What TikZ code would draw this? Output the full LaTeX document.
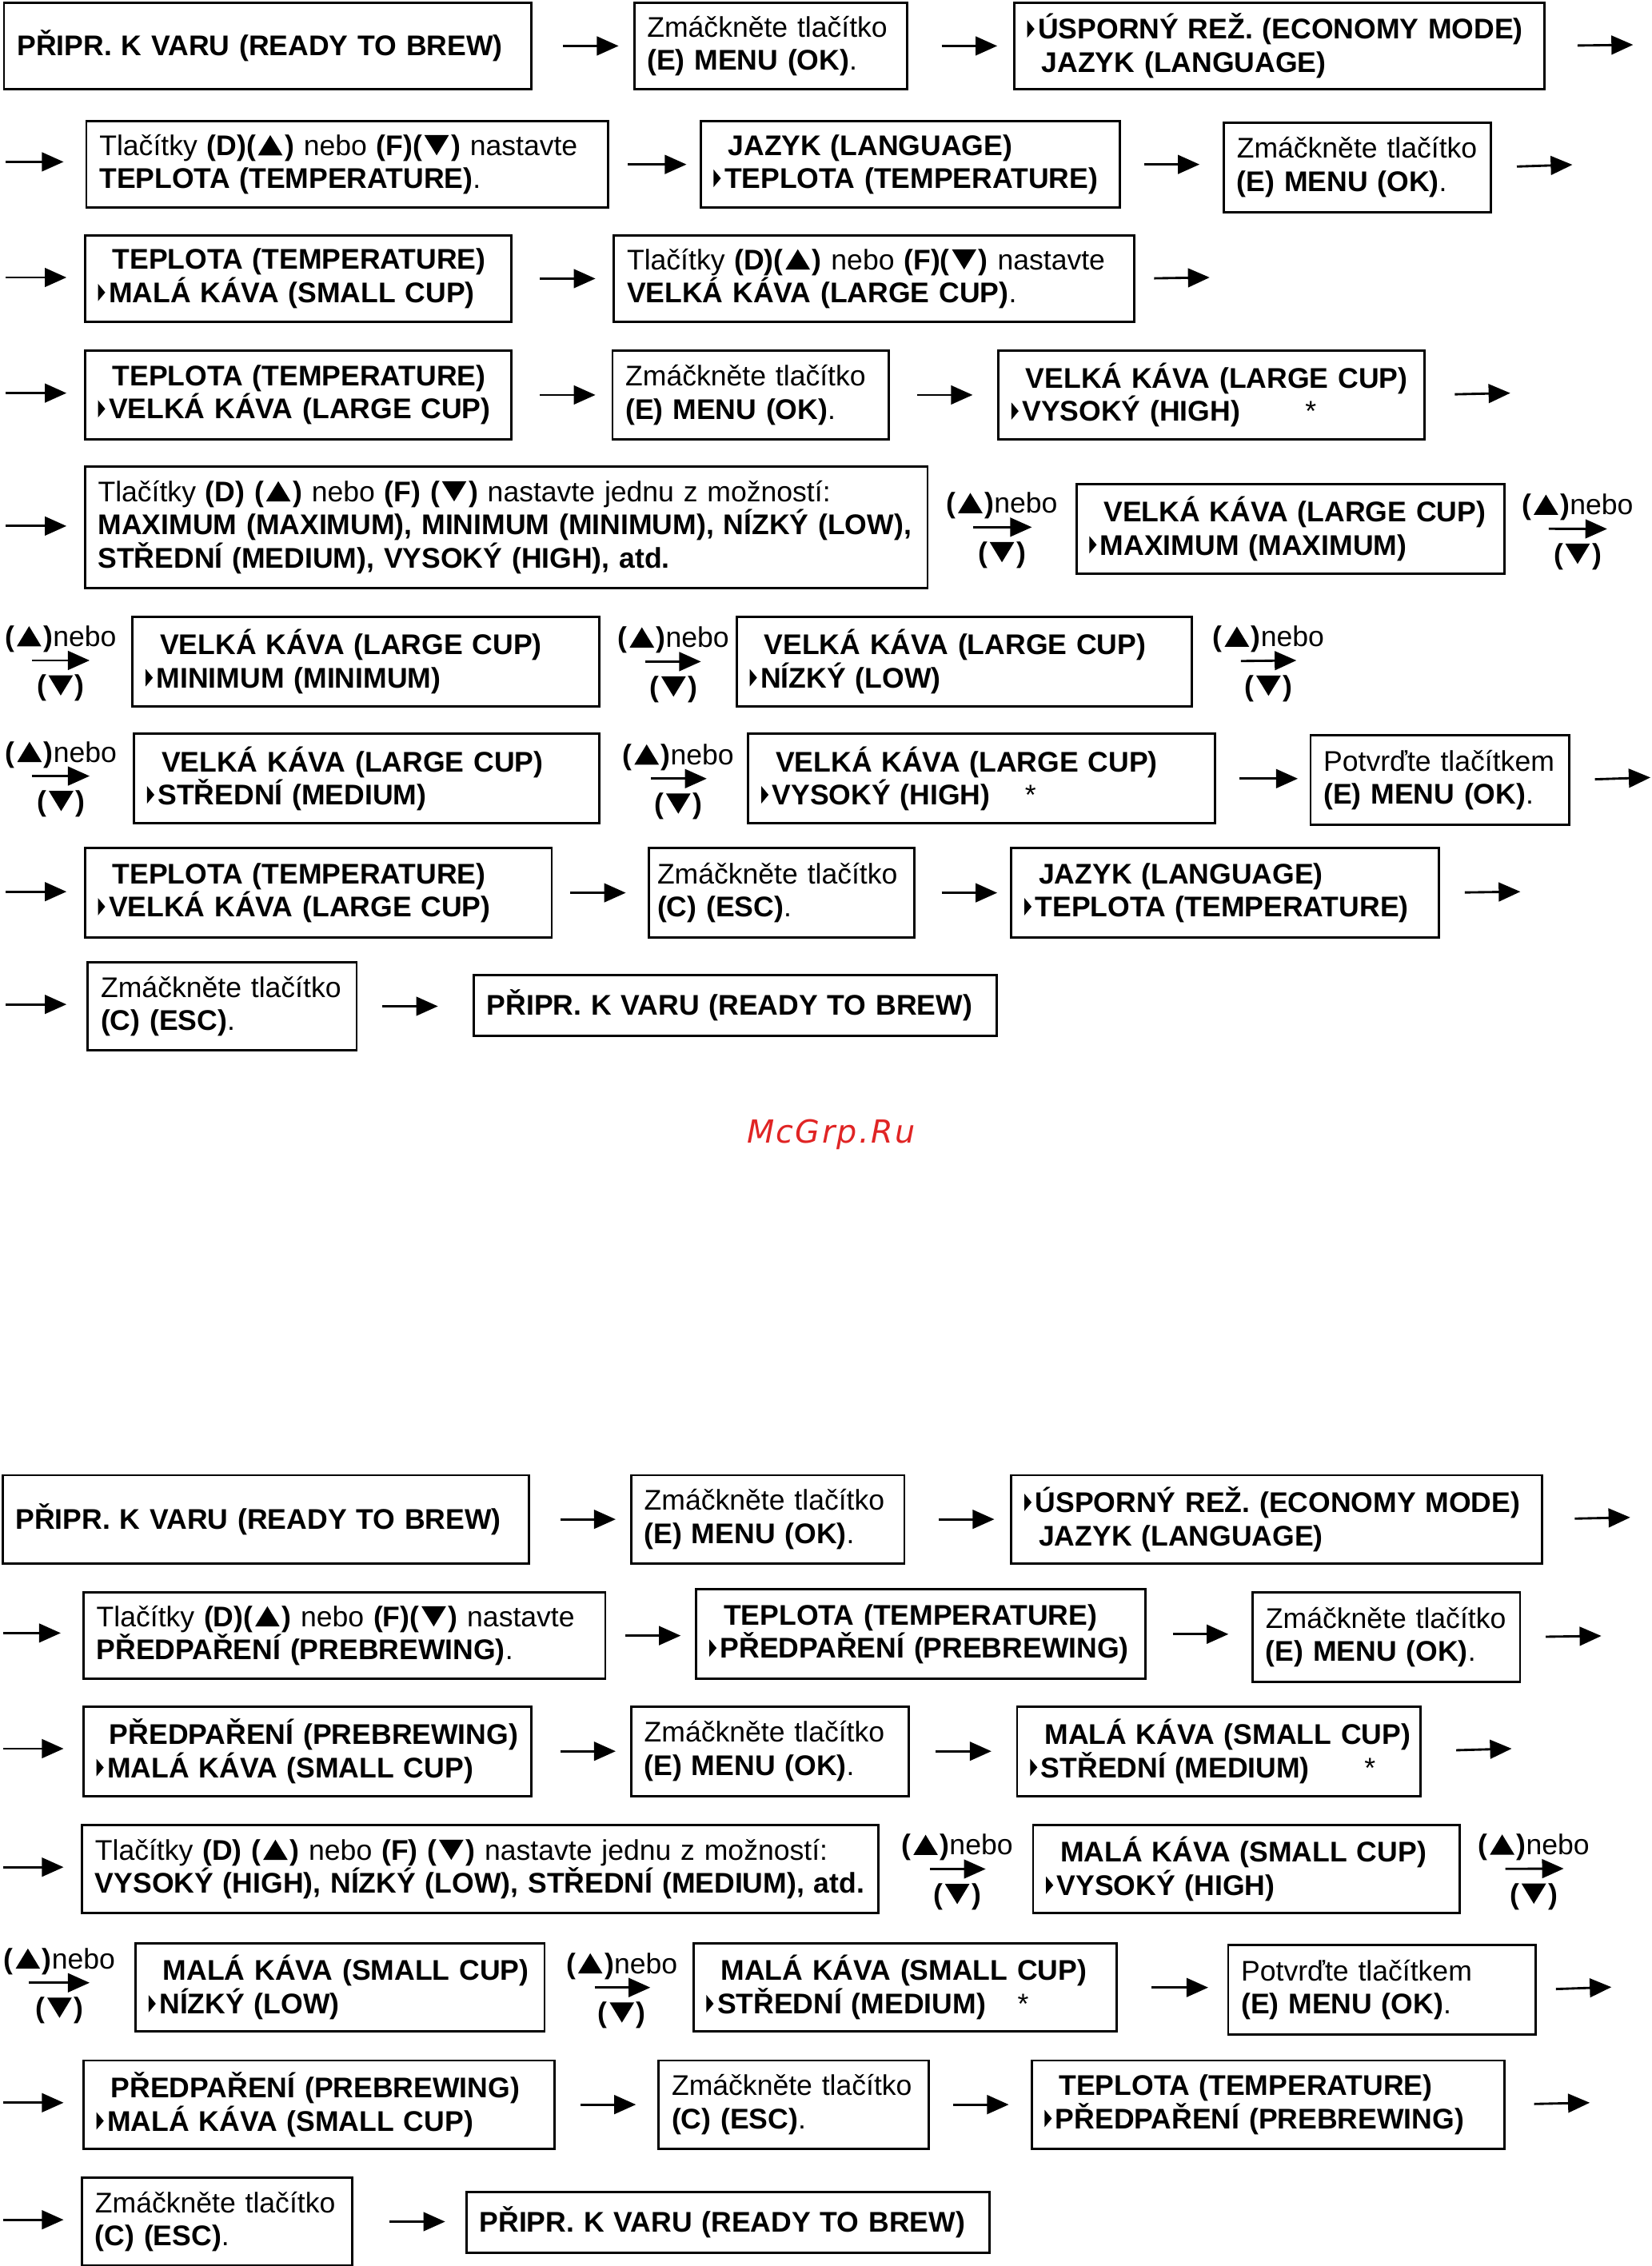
\documentclass[tikz,border=0pt]{standalone}
\usepackage{fontspec}
\setmainfont{Liberation Sans}
\newfontfamily\markfont[LetterSpace=6]{DejaVu Sans}
\usetikzlibrary{arrows.meta}

\newdimen\px \px=0.02cm
\definecolor{markred}{RGB}{224,36,36}
\newcommand{\bodyfont}{\fontsize{11.2}{13.1}\selectfont}
\newcommand{\sel}{\tikz[x=1cm,y=1cm,baseline=0pt]\fill (0,0.02) -- (0.1,0.14) -- (0,0.26) -- cycle;\hspace{2.5\px}}
\newcommand{\ind}{\hspace*{10\px}}
\newcommand{\tup}{\hspace{0.03cm}\tikz[x=1cm,y=1cm,baseline=0pt]\fill (0,0) -- (0.34,0) -- (0.17,0.28) -- cycle;\hspace{0.03cm}}
\newcommand{\tdn}{\hspace{0.03cm}\tikz[x=1cm,y=1cm,baseline=0pt]\fill (0,0.28) -- (0.34,0.28) -- (0.17,0) -- cycle;\hspace{0.03cm}}
\newcommand{\keyup}{\textbf{(\tup)}}
\newcommand{\keydn}{\textbf{(\tdn)}}

\begin{document}
\begin{tikzpicture}[x=0.02cm, y=-0.02cm,
  box/.style={draw, line width=0.9pt, anchor=north west, inner xsep=9\px, inner ysep=0pt,
              minimum height=61\px, align=left, font=\bodyfont},
  arr/.style={line width=0.9pt, -{Triangle[length=0.3cm, width=0.26cm]}},
  key/.style={inner sep=1pt, font=\bodyfont}]

\useasboundingbox (0,0) rectangle (1143,1568);

% ---------------- upper sequence: large cup ----------------
% row 1
\node[box, text width=347\px, minimum height=60\px] (t1) at (2,1) {\textbf{PŘIPR. K VARU (READY TO BREW)}};
\node[box, text width=171\px, minimum height=60\px] (t2) at (438,1) {Zmáčkněte tlačítko\\\textbf{(E) MENU (OK)}.};
\node[box, text width=349\px, minimum height=60\px] (t3) at (701,1) {\sel\textbf{ÚSPORNÝ REŽ. (ECONOMY MODE)}\\\ind\textbf{JAZYK (LANGUAGE)}};
\coordinate (e1) at (1130,31);
\draw[arr, shorten <=21\px, shorten >=10\px] (t1.east) -- (t1.east -| t2.west);
\draw[arr, shorten <=23\px, shorten >=11\px] (t2.east) -- (t2.east -| t3.west);
\draw[arr, shorten <=22\px] (t3.east) -- (e1);

% row 2
\coordinate (r2) at (4,112);
\node[box, text width=343\px, minimum height=60\px] (t4) at (59,83) {Tlačítky \textbf{(D)(\tup)} nebo \textbf{(F)(\tdn)} nastavte\\\textbf{TEPLOTA (TEMPERATURE)}.};
\node[box, text width=272\px, minimum height=60\px] (t5) at (484,83) {\ind\textbf{JAZYK (LANGUAGE)}\\\sel\textbf{TEPLOTA (TEMPERATURE)}};
\node[box, text width=167\px, minimum height=62\px] (t6) at (846,84) {Zmáčkněte tlačítko\\\textbf{(E) MENU (OK)}.};
\coordinate (e2) at (1088,114);
\draw[arr, shorten >=15\px] (r2) -- (r2 -| t4.west);
\draw[arr, shorten <=13\px, shorten >=9\px] (t4.east) -- (t4.east -| t5.west);
\draw[arr, shorten <=16\px, shorten >=16\px] (t5.east) -- (t5.east -| t6.west);
\draw[arr, shorten <=17\px] (t6.east) -- (e2);

% row 3
\coordinate (r3) at (4,192);
\node[box, text width=277\px, minimum height=60\px] (t7) at (58,162) {\ind\textbf{TEPLOTA (TEMPERATURE)}\\\sel\textbf{MALÁ KÁVA (SMALL CUP)}};
\node[box, text width=342\px, minimum height=60\px] (t8) at (424,162) {Tlačítky \textbf{(D)(\tup)} nebo \textbf{(F)(\tdn)} nastavte\\\textbf{VELKÁ KÁVA (LARGE CUP)}.};
\coordinate (e3) at (837,192);
\draw[arr, shorten >=12\px] (r3) -- (r3 -| t7.west);
\draw[arr, shorten <=19\px, shorten >=12\px] (t7.east) -- (t7.east -| t8.west);
\draw[arr, shorten <=13\px] (t8.east) -- (e3);

% row 4
\coordinate (r4) at (4,272);
\node[box, text width=277\px] (t9) at (58,242) {\ind\textbf{TEPLOTA (TEMPERATURE)}\\\sel\textbf{VELKÁ KÁVA (LARGE CUP)}};
\node[box, text width=173\px] (t10) at (423,242) {Zmáčkněte tlačítko\\\textbf{(E) MENU (OK)}.};
\node[box, text width=277\px] (t11) at (690,242) {\ind\textbf{VELKÁ KÁVA (LARGE CUP)}\\\sel\textbf{VYSOKÝ (HIGH)}\hspace*{45\px}*};
\coordinate (e4) at (1045,272);
\draw[arr, shorten >=12\px] (r4) -- (r4 -| t9.west);
\draw[arr, shorten <=19\px, shorten >=11\px] (t9.east) -- (t9.east -| t10.west);
\draw[arr, shorten <=19\px, shorten >=17\px] (t10.east) -- (t10.east -| t11.west);
\draw[arr, shorten <=20\px] (t11.east) -- (e4);

% row 5
\coordinate (r5) at (4,364);
\node[box, text width=565\px, minimum height=84\px] (t12) at (58,322) {Tlačítky \textbf{(D) (\tup)} nebo \textbf{(F) (\tdn)} nastavte jednu z možností:\\\textbf{MAXIMUM (MAXIMUM), MINIMUM (MINIMUM), NÍZKÝ (LOW),}\\\textbf{STŘEDNÍ (MEDIUM), VYSOKÝ (HIGH), atd.}};
\node[box, text width=278\px, minimum height=62\px] (t13) at (744,334) {\ind\textbf{VELKÁ KÁVA (LARGE CUP)}\\\sel\textbf{MAXIMUM (MAXIMUM)}};
\coordinate (e5) at (1112,366);
\draw[arr, shorten >=12\px] (r5) -- (r5 -| t12.west);
\draw[arr, shorten <=31\px, shorten >=30\px] (t12.east) -- (t12.east -| t13.west)
  node[key, pos=.5, above=2pt] {\keyup nebo} node[key, pos=.5, below=4.5pt] {\keydn};
\draw[arr, shorten <=30\px] (t13.east) -- (e5)
  node[key, pos=.71, above=2pt] {\keyup nebo} node[key, pos=.71, below=4.5pt] {\keydn};

% row 6
\coordinate (r6) at (22,457);
\node[box, text width=305\px, minimum height=62\px] (t14) at (91,426) {\ind\textbf{VELKÁ KÁVA (LARGE CUP)}\\\sel\textbf{MINIMUM (MINIMUM)}};
\node[box, text width=297\px, minimum height=62\px] (t15) at (509,426) {\ind\textbf{VELKÁ KÁVA (LARGE CUP)}\\\sel\textbf{NÍZKÝ (LOW)}};
\coordinate (e6) at (897,457);
\draw[arr, shorten >=29\px] (r6) -- (r6 -| t14.west)
  node[key, pos=.29, above=2pt] {\keyup nebo} node[key, pos=.29, below=4.5pt] {\keydn};
\draw[arr, shorten <=31\px, shorten >=24\px] (t14.east) -- (t14.east -| t15.west)
  node[key, pos=.54, above=2pt] {\keyup nebo} node[key, pos=.54, below=4.5pt] {\keydn};
\draw[arr, shorten <=33\px] (t15.east) -- (e6)
  node[key, pos=.73, above=2pt] {\keyup nebo} node[key, pos=.73, below=4.5pt] {\keydn};

% row 7
\coordinate (r7) at (22,537);
\node[box, text width=304\px, minimum height=62\px] (t16) at (92,507) {\ind\textbf{VELKÁ KÁVA (LARGE CUP)}\\\sel\textbf{STŘEDNÍ (MEDIUM)}};
\node[box, text width=305\px, minimum height=62\px] (t17) at (517,507) {\ind\textbf{VELKÁ KÁVA (LARGE CUP)}\\\sel\textbf{VYSOKÝ (HIGH)}\hspace*{24\px}*};
\node[box, text width=161\px, minimum height=62\px] (t18) at (906,508) {Potvrďte tlačítkem\\\textbf{(E) MENU (OK)}.};
\coordinate (e7) at (1142,538);
\draw[arr, shorten >=30\px] (r7) -- (r7 -| t16.west)
  node[key, pos=.29, above=2pt] {\keyup nebo} node[key, pos=.29, below=4.5pt] {\keydn};
\draw[arr, shorten <=35\px, shorten >=28\px] (t16.east) -- (t16.east -| t17.west)
  node[key, pos=.53, above=2pt] {\keyup nebo} node[key, pos=.53, below=4.5pt] {\keydn};
\draw[arr, shorten <=16\px, shorten >=8\px] (t17.east) -- (t17.east -| t18.west);
\draw[arr, shorten <=17\px] (t18.east) -- (e7);

% row 8
\coordinate (r8) at (4,617);
\node[box, text width=305\px, minimum height=62\px] (t19) at (58,586) {\ind\textbf{TEPLOTA (TEMPERATURE)}\\\sel\textbf{VELKÁ KÁVA (LARGE CUP)}};
\node[box, text width=172\px, inner xsep=6\px, minimum height=62\px] (t20) at (448,586) {Zmáčkněte tlačítko\\\textbf{(C) (ESC)}.};
\node[box, text width=278\px, minimum height=62\px] (t21) at (699,586) {\ind\textbf{JAZYK (LANGUAGE)}\\\sel\textbf{TEPLOTA (TEMPERATURE)}};
\coordinate (e8) at (1052,617);
\draw[arr, shorten >=12\px] (r8) -- (r8 -| t19.west);
\draw[arr, shorten <=12\px, shorten >=15\px] (t19.east) -- (t19.east -| t20.west);
\draw[arr, shorten <=18\px, shorten >=9\px] (t20.east) -- (t20.east -| t21.west);
\draw[arr, shorten <=17\px] (t21.east) -- (e8);

% row 9
\coordinate (r9) at (4,695);
\node[box, text width=168\px] (t22) at (60,665) {Zmáčkněte tlačítko\\\textbf{(C) (ESC)}.};
\node[box, text width=344\px, minimum height=42\px] (t23) at (327,674) {\textbf{PŘIPR. K VARU (READY TO BREW)}};
\draw[arr, shorten >=14\px] (r9) -- (r9 -| t22.west);
\draw[arr, shorten <=17\px, shorten >=24\px] (t22.east) -- (t22.east -| t23.west);

\node[font=\markfont\itshape\fontsize{12.5}{14}\selectfont, text=markred] (mark) at (575,785) {McGrp.Ru};

% ---------------- lower sequence: prebrewing ----------------
% row 1
\node[box, text width=346\px] (s1) at (1,1020) {\textbf{PŘIPR. K VARU (READY TO BREW)}};
\node[box, text width=171\px] (s2) at (436,1020) {Zmáčkněte tlačítko\\\textbf{(E) MENU (OK)}.};
\node[box, text width=349\px] (s3) at (699,1020) {\sel\textbf{ÚSPORNÝ REŽ. (ECONOMY MODE)}\\\ind\textbf{JAZYK (LANGUAGE)}};
\coordinate (f1) at (1128,1050);
\draw[arr, shorten <=21\px, shorten >=10\px] (s1.east) -- (s1.east -| s2.west);
\draw[arr, shorten <=23\px, shorten >=11\px] (s2.east) -- (s2.east -| s3.west);
\draw[arr, shorten <=22\px] (s3.east) -- (f1);

% row 2
\coordinate (q2) at (2,1130);
\node[box, text width=343\px, minimum height=60\px] (s4) at (57,1101) {Tlačítky \textbf{(D)(\tup)} nebo \textbf{(F)(\tdn)} nastavte\\\textbf{PŘEDPAŘENÍ (PREBREWING)}.};
\node[box, text width=293\px, minimum height=62\px] (s5) at (481,1099) {\ind\textbf{TEPLOTA (TEMPERATURE)}\\\sel\textbf{PŘEDPAŘENÍ (PREBREWING)}};
\node[box, text width=167\px, minimum height=62\px] (s6) at (866,1101) {Zmáčkněte tlačítko\\\textbf{(E) MENU (OK)}.};
\coordinate (f2) at (1108,1132);
\draw[arr, shorten >=15\px] (q2) -- (q2 -| s4.west);
\draw[arr, shorten <=13\px, shorten >=10\px] (s4.east) -- (s4.east -| s5.west);
\draw[arr, shorten <=18\px, shorten >=16\px] (s5.east) -- (s5.east -| s6.west);
\draw[arr, shorten <=17\px] (s6.east) -- (f2);

% row 3
\coordinate (q3) at (2,1210);
\node[box, text width=302\px, inner xsep=4\px, minimum height=62\px] (s7) at (57,1180) {\hspace*{14\px}\textbf{PŘEDPAŘENÍ (PREBREWING)}\\\hspace*{5\px}\sel\textbf{MALÁ KÁVA (SMALL CUP)}};
\node[box, text width=174\px, minimum height=62\px] (s8) at (436,1180) {Zmáčkněte tlačítko\\\textbf{(E) MENU (OK)}.};
\node[box, text width=269\px, inner xsep=5\px, minimum height=62\px] (s9) at (703,1180) {\hspace*{14\px}\textbf{MALÁ KÁVA (SMALL CUP)}\\\hspace*{4\px}\sel\textbf{STŘEDNÍ (MEDIUM)}\hspace*{38\px}*};
\coordinate (f3) at (1046,1210);
\draw[arr, shorten >=13\px] (q3) -- (q3 -| s7.west);
\draw[arr, shorten <=19\px, shorten >=10\px] (s7.east) -- (s7.east -| s8.west);
\draw[arr, shorten <=18\px, shorten >=17\px] (s8.east) -- (s8.east -| s9.west);
\draw[arr, shorten <=24\px] (s9.east) -- (f3);

% row 4
\coordinate (q4) at (2,1292);
\node[box, text width=533\px] (s10) at (56,1262) {Tlačítky \textbf{(D) (\tup)} nebo \textbf{(F) (\tdn)} nastavte jednu z možností:\\\textbf{VYSOKÝ (HIGH), NÍZKÝ (LOW), STŘEDNÍ (MEDIUM), atd.}};
\node[box, text width=277\px] (s11) at (714,1262) {\ind\textbf{MALÁ KÁVA (SMALL CUP)}\\\sel\textbf{VYSOKÝ (HIGH)}};
\coordinate (f4) at (1082,1293);
\draw[arr, shorten >=12\px] (q4) -- (q4 -| s10.west);
\draw[arr, shorten <=35\px, shorten >=32\px] (s10.east) -- (s10.east -| s11.west)
  node[key, pos=.51, above=2pt] {\keyup nebo} node[key, pos=.51, below=4.5pt] {\keydn};
\draw[arr, shorten <=31\px] (s11.east) -- (f4)
  node[key, pos=.71, above=2pt] {\keyup nebo} node[key, pos=.71, below=4.5pt] {\keydn};

% row 5
\coordinate (q5) at (20,1372);
\node[box, text width=265\px] (s12) at (93,1344) {\ind\textbf{MALÁ KÁVA (SMALL CUP)}\\\sel\textbf{NÍZKÝ (LOW)}};
\node[box, text width=275\px] (s13) at (479,1344) {\ind\textbf{MALÁ KÁVA (SMALL CUP)}\\\sel\textbf{STŘEDNÍ (MEDIUM)}\hspace*{22\px}*};
\node[box, text width=195\px, minimum height=62\px] (s14) at (849,1345) {Potvrďte tlačítkem\\\textbf{(E) MENU (OK)}.};
\coordinate (f5) at (1115,1375);
\draw[arr, shorten >=31\px] (q5) -- (q5 -| s12.west)
  node[key, pos=.29, above=2pt] {\keyup nebo} node[key, pos=.29, below=4.5pt] {\keydn};
\draw[arr, shorten <=34\px, shorten >=29\px] (s12.east) -- (s12.east -| s13.west)
  node[key, pos=.52, above=2pt] {\keyup nebo} node[key, pos=.52, below=4.5pt] {\keydn};
\draw[arr, shorten <=23\px, shorten >=13\px] (s13.east) -- (s13.east -| s14.west);
\draw[arr, shorten <=13\px] (s14.east) -- (f5);

% row 6
\coordinate (q6) at (2,1455);
\node[box, text width=308\px] (s15) at (57,1425) {\ind\textbf{PŘEDPAŘENÍ (PREBREWING)}\\\sel\textbf{MALÁ KÁVA (SMALL CUP)}};
\node[box, text width=169\px] (s16) at (455,1425) {Zmáčkněte tlačítko\\\textbf{(C) (ESC)}.};
\node[box, text width=309\px] (s17) at (713,1425) {\ind\textbf{TEPLOTA (TEMPERATURE)}\\\sel\textbf{PŘEDPAŘENÍ (PREBREWING)}};
\coordinate (f6) at (1100,1455);
\draw[arr, shorten >=13\px] (q6) -- (q6 -| s15.west);
\draw[arr, shorten <=17\px, shorten >=15\px] (s15.east) -- (s15.east -| s16.west);
\draw[arr, shorten <=16\px, shorten >=15\px] (s16.east) -- (s16.east -| s17.west);
\draw[arr, shorten <=20\px] (s17.east) -- (f6);

% row 7
\coordinate (q7) at (2,1536);
\node[box, text width=169\px] (s18) at (56,1506) {Zmáčkněte tlačítko\\\textbf{(C) (ESC)}.};
\node[box, text width=344\px, minimum height=42\px] (s19) at (322,1516) {\textbf{PŘIPR. K VARU (READY TO BREW)}};
\draw[arr, shorten >=12\px] (q7) -- (q7 -| s18.west);
\draw[arr, shorten <=25\px, shorten >=14\px] (s18.east) -- (s18.east -| s19.west);

\end{tikzpicture}
\end{document}
